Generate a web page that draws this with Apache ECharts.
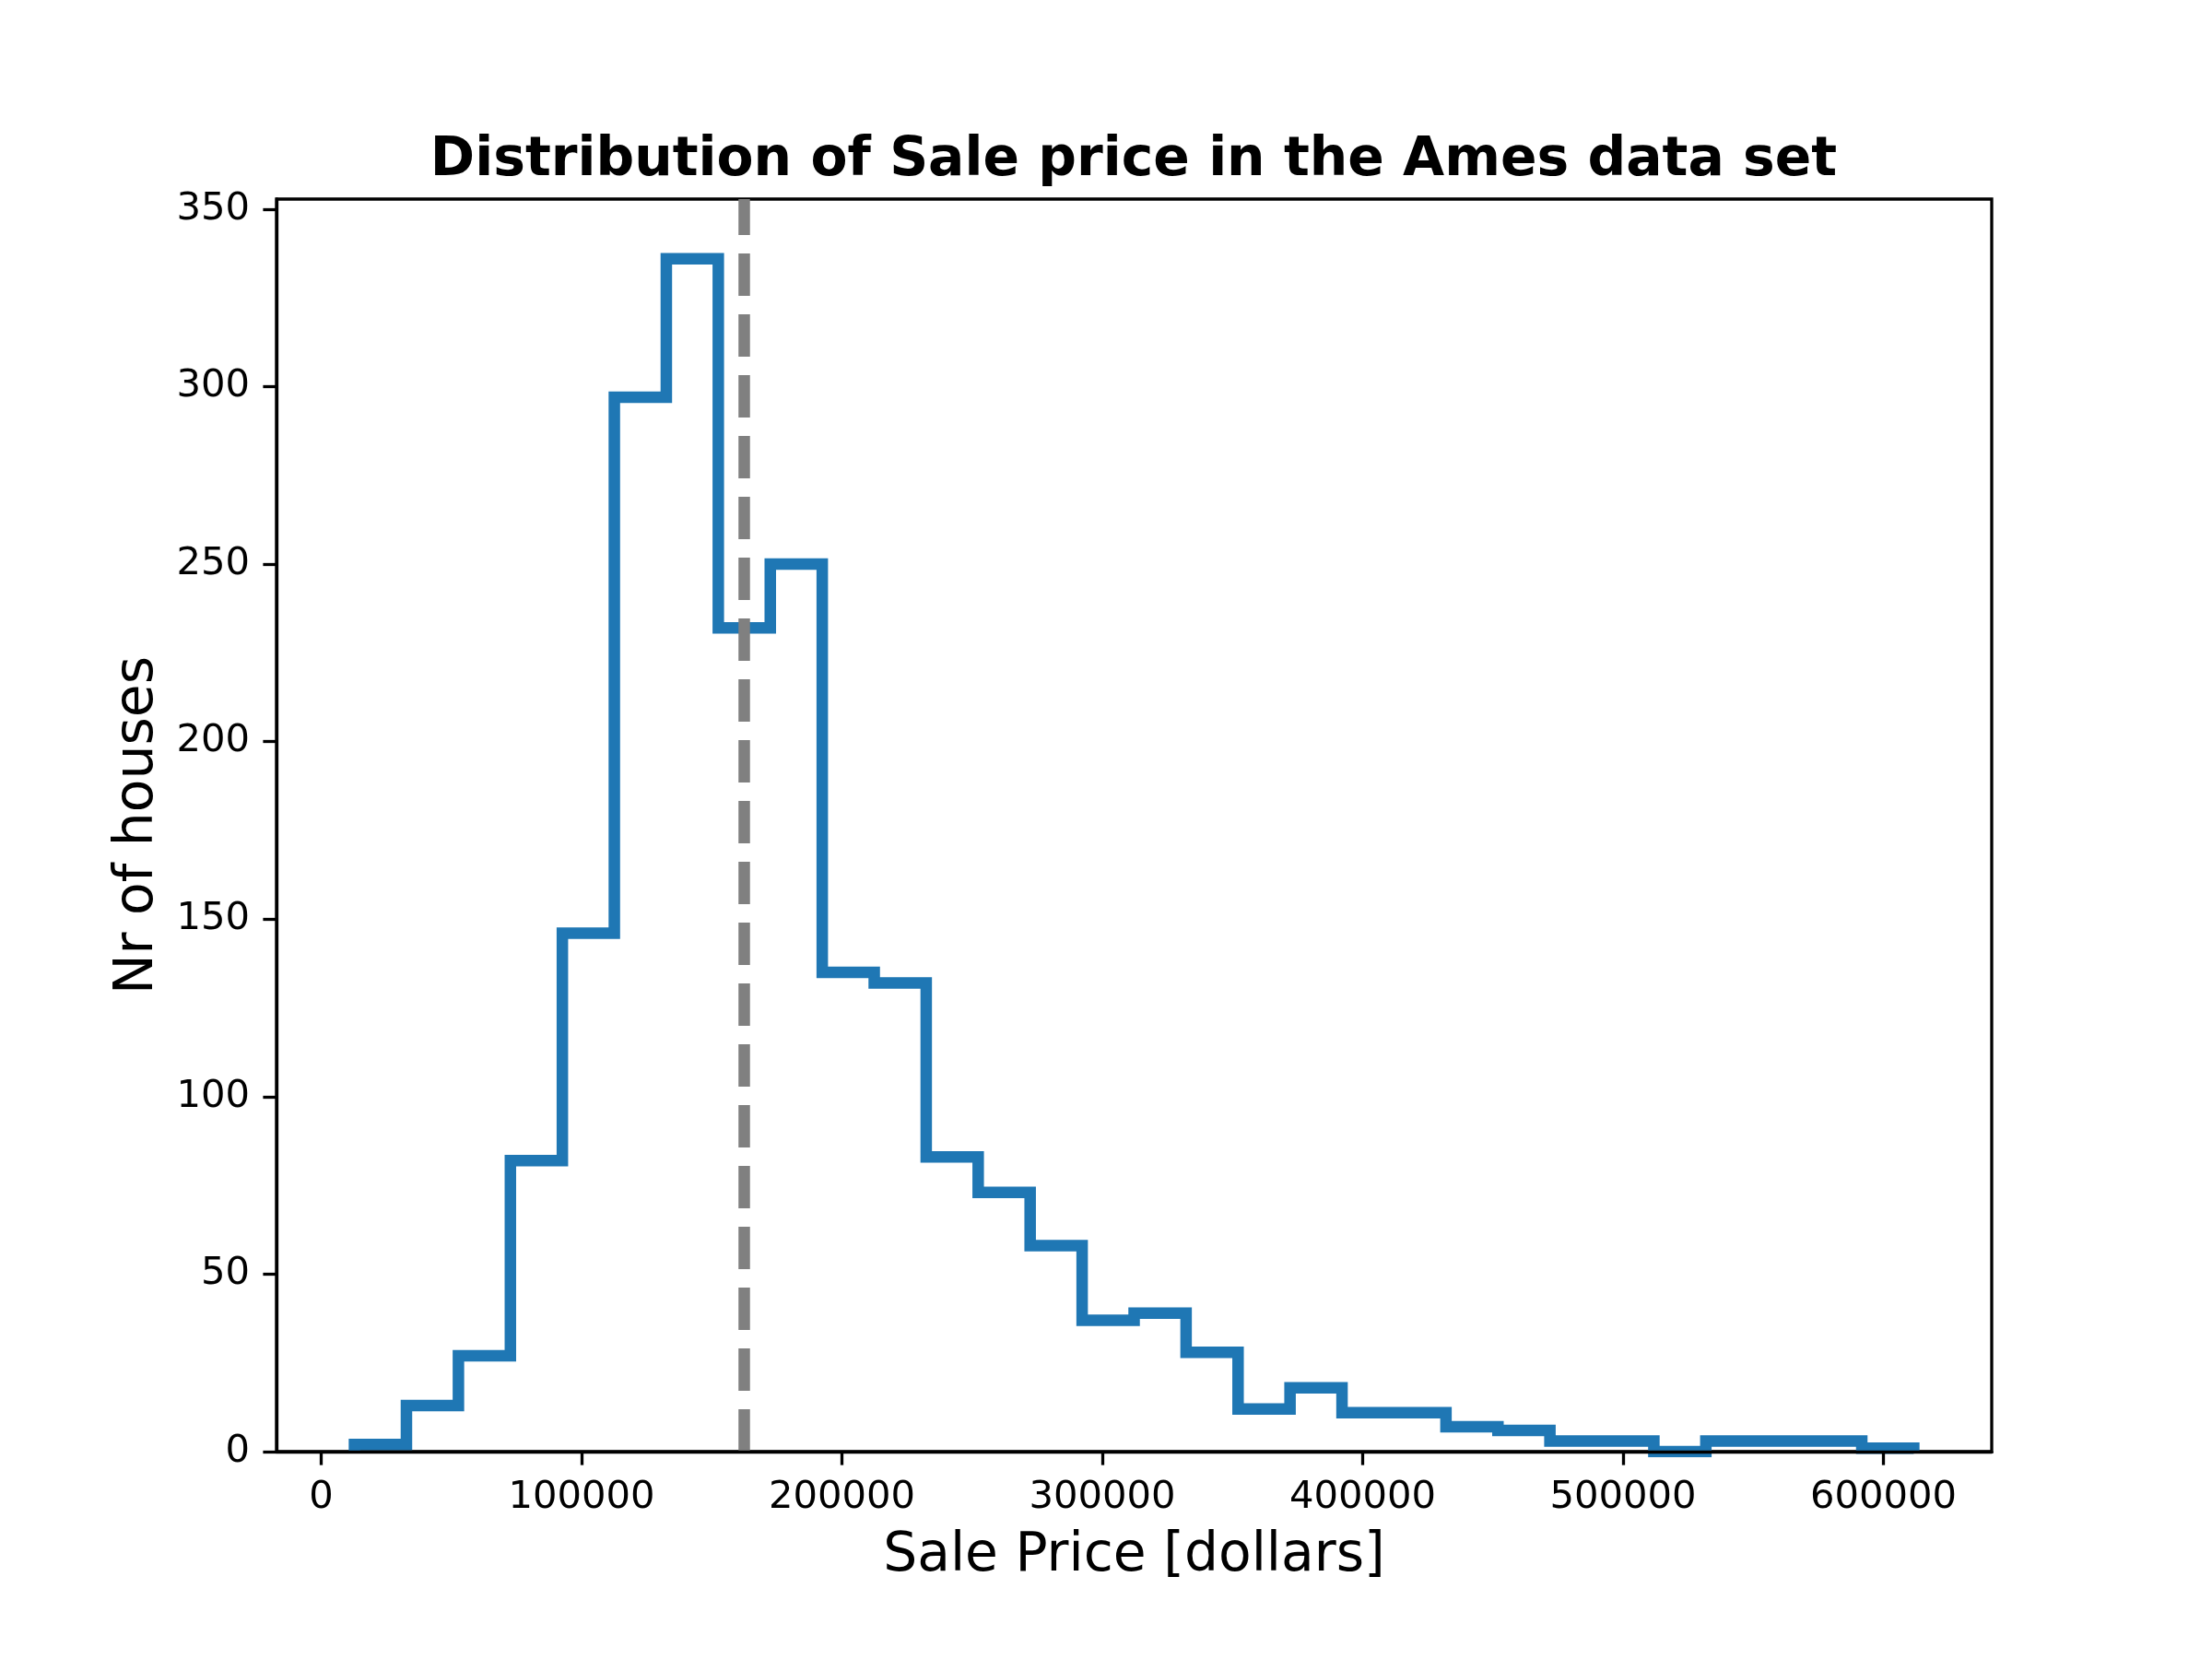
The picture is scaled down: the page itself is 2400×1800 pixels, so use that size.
<!DOCTYPE html>
<html>
<head>
<meta charset="utf-8">
<title>Distribution of Sale price</title>
<script src="https://cdn.jsdelivr.net/npm/echarts@6/dist/echarts.min.js"></script>
<style>
html, body { margin: 0; padding: 0; background: #fff; }
#main { width: 2400px; height: 1800px; }
</style>
</head>
<body>
<div id="main"></div>
<script>
// 直方图的分箱边界（30个箱）和每箱的房屋数量
var binEdges = [12789, 32751, 52714, 72676, 92638, 112600, 132563, 152525, 172487, 192449,
    212412, 232374, 252336, 272298, 292261, 312223, 332185, 352148, 372110, 392072,
    412034, 431997, 451959, 471921, 491883, 511846, 531808, 551770, 571732, 591695, 611657];
var binCounts = [2, 13, 27, 82, 146, 297, 336, 232, 250, 135,
    132, 83, 73, 58, 37, 39, 28, 12, 18, 11,
    11, 7, 6, 3, 3, 0, 3, 3, 3, 1];
var medianPrice = 162500;
var xTicks = [0, 100000, 200000, 300000, 400000, 500000, 600000];
var yTicks = [0, 50, 100, 150, 200, 250, 300, 350];

// 阶梯线的顶点，从分箱数据得到
var stepPoints = [[binEdges[0], 0]];
for (var i = 0; i < binCounts.length; i++) {
    stepPoints.push([binEdges[i], binCounts[i]]);
    stepPoints.push([binEdges[i + 1], binCounts[i]]);
}
stepPoints.push([binEdges[binEdges.length - 1], 0]);

// 坐标范围：x 两侧留 5%，y 顶部留 5%
var span = binEdges[binEdges.length - 1] - binEdges[0];
var xMin = binEdges[0] - 0.05 * span;
var xMax = binEdges[binEdges.length - 1] + 0.05 * span;
var yMax = Math.max.apply(null, binCounts) * 1.05;

var font = 'DejaVu Sans';

var option = {
    animation: false,
    backgroundColor: '#fff',
    title: {
        text: 'Distribution of Sale price in the Ames data set',
        left: 1225,
        top: 141,
        textAlign: 'center',
        textStyle: {fontSize: 58.3, fontWeight: 'bold', color: '#000', fontFamily: font}
    },
    grid: {
        left: 300, right: 239, top: 216, bottom: 225,
        show: true, borderColor: '#000', borderWidth: 3.3,
        containLabel: false, outerBoundsMode: 'none'
    },
    xAxis: {
        type: 'value',
        min: xMin,
        max: xMax,
        z: 5,
        name: 'Sale Price [dollars]',
        nameLocation: 'middle',
        nameGap: 85,
        nameTextStyle: {fontSize: 58.3, color: '#000', fontFamily: font},
        axisLine: {show: true, onZero: false, lineStyle: {color: '#000', width: 3.3}},
        axisTick: {show: true, customValues: xTicks, length: 14.6, lineStyle: {color: '#000', width: 3.3}},
        axisLabel: {
            customValues: xTicks, margin: 29, fontSize: 41.7, color: '#000', fontFamily: font,
            formatter: function (v) { return String(v); }
        },
        splitLine: {show: false}
    },
    yAxis: {
        type: 'value',
        min: 0,
        max: yMax,
        z: 5,
        name: 'Nr of houses',
        nameLocation: 'middle',
        nameGap: 121,
        nameTextStyle: {fontSize: 58.3, color: '#000', fontFamily: font},
        axisLine: {show: true, onZero: false, lineStyle: {color: '#000', width: 3.3}},
        axisTick: {show: true, customValues: yTicks, length: 14.6, lineStyle: {color: '#000', width: 3.3}},
        axisLabel: {
            customValues: yTicks, margin: 29, fontSize: 41.7, color: '#000', fontFamily: font,
            formatter: function (v) { return String(v); }
        },
        splitLine: {show: false}
    },
    series: [{
        name: 'Sale price',
        type: 'line',
        data: stepPoints,
        symbol: 'none',
        clip: true,
        z: 2,
        lineStyle: {color: '#1f77b4', width: 12.5, join: 'miter', cap: 'butt'}
    }, {
        name: 'median',
        type: 'line',
        data: [],
        z: 3,
        markLine: {
            silent: true,
            symbol: ['none', 'none'],
            label: {show: false},
            lineStyle: {color: '#808080', width: 12.5, type: [46, 20], cap: 'butt'},
            data: [{xAxis: medianPrice}]
        }
    }]
};

var myChart = echarts.init(document.getElementById('main'));
myChart.setOption(option);
</script>
</body>
</html>
